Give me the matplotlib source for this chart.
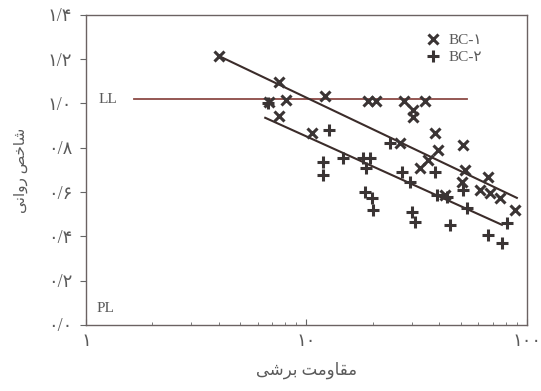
import numpy as np
import matplotlib
matplotlib.use("Agg")
import matplotlib.pyplot as plt
from matplotlib.ticker import FixedLocator, NullFormatter, FixedFormatter

# Shear strength (kPa) vs. liquidity index for two clay samples
bc1_strength = [4.0, 7.47, 6.73, 8.04, 7.47, 10.6, 12.1, 19.1, 20.7, 27.8, 30.5, 30.5,
                34.5, 38.4, 51.3, 39.6, 35.6, 32.8, 52.4, 66.6, 61.3, 68.0, 75.5,
                88.3, 26.6, 50.8, 42.6]
bc1_li = [1.215, 1.098, 1.007, 1.016, 0.944, 0.867, 1.034, 1.012, 1.012, 1.012, 0.971,
          0.939, 1.012, 0.867, 0.813, 0.790, 0.745, 0.709, 0.700, 0.668, 0.610, 0.596,
          0.574, 0.519, 0.822, 0.646, 0.587]

bc2_strength = [6.66, 12.6, 11.9, 11.9, 14.7, 18.1, 19.5, 18.7, 18.5, 19.9, 20.1, 24.0,
                27.2, 29.6, 38.4, 51.3, 39.1, 43.5, 53.5, 30.2, 31.1, 44.8, 66.6, 77.1,
                81.2]
bc2_li = [1.003, 0.881, 0.736, 0.678, 0.754, 0.754, 0.754, 0.709, 0.601, 0.574, 0.519,
          0.822, 0.691, 0.646, 0.691, 0.610, 0.587, 0.578, 0.528, 0.510, 0.465, 0.452,
          0.406, 0.370, 0.461]

# Trend lines: LI = a - b * log10(Su), drawn over their strength range
bc1_fit = (1.500, 0.474, 4.0, 90.0)
bc2_fit = (1.301, 0.450, 6.5, 77.0)

liquid_limit = 1.02
ll_range = (1.65, 53.5)

y_ticks = [0.0, 0.2, 0.4, 0.6, 0.8, 1.0, 1.2, 1.4]
y_labels = ["۰/۰", "۰/۲", "۰/۴", "۰/۶", "۰/۸", "۱/۰", "۱/۲", "۱/۴"]
x_ticks = [1, 10, 100]
x_labels = ["۱", "۱۰", "۱۰۰"]
legend_labels = ["BC-۱", "BC-۲"]

# Persian captions written with presentation forms in display order
x_title = "\ufef0\ufeb7\ufeae\ufe91 \ufe96\ufee3\ufeed\ufe8e\ufed8\ufee3"
y_title = "\ufef0\ufee7\ufe8d\ufeed\ufead \ufeba\ufea7\ufe8e\ufeb7"

txt = "#5a5a5a"
ink = "#3a3434"
fam = ["Liberation Serif", "DejaVu Sans"]

fig = plt.figure(figsize=(5.41, 3.91), dpi=100)
ax = fig.add_axes([0.159, 0.169, 0.815, 0.793])
ax.set_xscale("log")
ax.set_xlim(1, 100)
ax.set_ylim(0, 1.4)

for a, b, x0, x1 in (bc1_fit, bc2_fit):
    xs = np.array([x0, x1])
    ax.plot(xs, a - b * np.log10(xs), color="#3b2c2a", lw=1.5, zorder=2)

ax.plot(ll_range, [liquid_limit, liquid_limit], color="#8c4a45", lw=1.3, zorder=1)

ax.plot(bc1_strength, bc1_li, ls="none", marker="x", ms=7.5, mew=2.2, color=ink,
        label=legend_labels[0], zorder=3)
ax.plot(bc2_strength, bc2_li, ls="none", marker="+", ms=8, mew=2.2, color=ink,
        label=legend_labels[1], zorder=3)

ax.text(1.14, liquid_limit, "LL", ha="left", va="center", fontsize=11, color=txt,
        family=fam)
ax.text(1.12, 0.075, "PL", ha="left", va="center", fontsize=11, color=txt, family=fam)

ax.yaxis.set_major_locator(FixedLocator(y_ticks))
ax.yaxis.set_major_formatter(FixedFormatter(y_labels))
ax.xaxis.set_major_locator(FixedLocator(x_ticks))
ax.xaxis.set_major_formatter(FixedFormatter(x_labels))
ax.xaxis.set_minor_formatter(NullFormatter())

ax.tick_params(axis="y", direction="out", length=4, width=0.8, colors="#666666",
               labelcolor=txt, labelsize=13, pad=6)
ax.tick_params(axis="x", which="major", direction="in", length=4, width=0.8,
               colors="#666666", labelcolor=txt, labelsize=13, pad=6)
ax.tick_params(axis="x", which="minor", direction="in", length=2.5, width=0.6,
               colors="#666666")
for lab in ax.get_xticklabels() + ax.get_yticklabels():
    lab.set_family(fam)

for side, sp in ax.spines.items():
    sp.set_color("#6b6262")
    sp.set_linewidth(1.0)

ax.set_xlabel(x_title, fontsize=12, color=txt, family=fam, labelpad=8)
ax.set_ylabel(y_title, fontsize=11, color=txt, family=fam, labelpad=14)

leg = ax.legend(loc="upper right", bbox_to_anchor=(0.93, 0.985), frameon=False,
                handlelength=0.8, handletextpad=0.6, labelspacing=0.25,
                prop={"family": fam, "size": 11})
for t in leg.get_texts():
    t.set_color(txt)

fig.savefig("out.png", dpi=100)
